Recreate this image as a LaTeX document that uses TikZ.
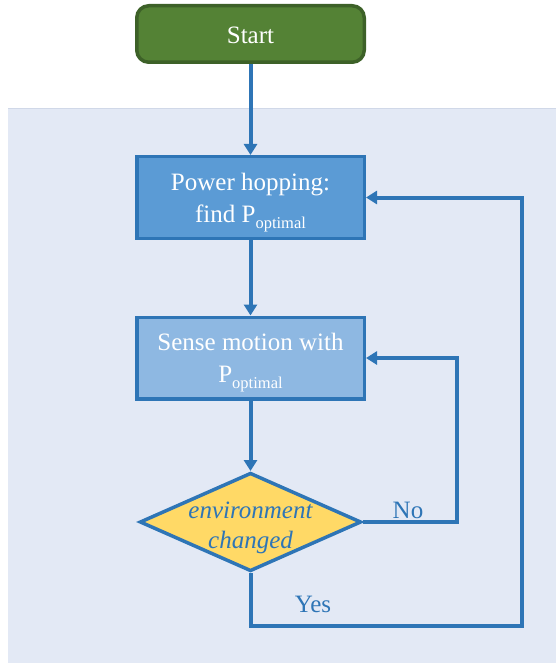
\documentclass[tikz,border=0pt]{standalone}
\usepackage{fontspec}
\setmainfont{Liberation Serif}
\usetikzlibrary{shapes.geometric,arrows.meta}
\definecolor{panelfill}{HTML}{E3E9F5}
\definecolor{panelline}{HTML}{D0D8E8}
\definecolor{startfill}{HTML}{548235}
\definecolor{startline}{HTML}{3D6128}
\definecolor{flowblue}{HTML}{2E75B6}
\definecolor{boxone}{HTML}{5B9BD5}
\definecolor{boxtwo}{HTML}{8EB8E2}
\definecolor{decfill}{HTML}{FFD966}
\newcommand{\bigtxt}{\fontsize{25}{32}\selectfont}
\newcommand{\dectxt}{\fontsize{25}{30}\selectfont\itshape}
\newcommand{\popt}{P\raisebox{-6pt}{\fontsize{16.5}{16.5}\selectfont optimal}}
% two centred lines, shifted down by #1 while the box keeps its natural extent
\newcommand{\twolines}[3]{\raisebox{#1}[\height][\depth]{\begin{tabular}{@{}c@{}}#2\\#3\end{tabular}}}
\tikzset{
  startbox/.style={rectangle, rounded corners=12pt, draw=startline, fill=startfill,
    line width=3.5pt, minimum width=227.5pt, minimum height=56.5pt, text=white,
    font=\bigtxt, inner sep=0pt},
  procbox/.style={rectangle, draw=flowblue, line width=3.5pt, minimum width=227.5pt,
    minimum height=81.5pt, text=white, font=\bigtxt, inner sep=0pt},
  decbox/.style={diamond, draw=flowblue, fill=decfill, line width=3.5pt,
    minimum width=221.5pt, minimum height=98.5pt, inner sep=0pt},
  flow/.style={draw=flowblue, line width=4pt, line join=miter,
    -{Triangle[length=11pt,width=13pt]}},
  branch/.style={text=flowblue, font=\bigtxt, inner sep=0pt}
}
\begin{document}
\begin{tikzpicture}[x=1pt,y=-1pt]
\useasboundingbox (0,0) rectangle (556,663);
% shaded panel behind the loop
\fill[panelfill] (8,108) rectangle (556,663);
\draw[panelline, line width=1pt] (8,108.5) -- (556,108.5);

\node[startbox] (start) at (250.5,34) {\raisebox{-1pt}[\height][\depth]{Start}};
\node[procbox, fill=boxone] (hop) at (250.5,197.5) {\twolines{-3pt}{Power hopping:}{find \popt}};
\node[procbox, fill=boxtwo] (sense) at (250.5,358) {\twolines{-2.5pt}{Sense motion with}{\popt}};
\node[decbox, label={[text=flowblue, font=\dectxt, inner sep=0pt]center:\twolines{-5pt}{environment}{changed}}] (dec) at (250.5,522) {};

\coordinate (noturn) at (457,522);
\coordinate (yesturn) at (522,626);

\draw[flow] (start.south) -- (hop.north);
\draw[flow] (hop.south) -- (sense.north);
\draw[flow] (sense.south) -- (dec.north);
\draw[flow] (dec.east) -- (noturn) |- (sense.east);
\draw[flow] (dec.south) |- (yesturn) |- (hop.east);

\node[branch] (nolab) at (408,510) {No};
\node[branch] (yeslab) at (313,604) {Yes};
\end{tikzpicture}
\end{document}
